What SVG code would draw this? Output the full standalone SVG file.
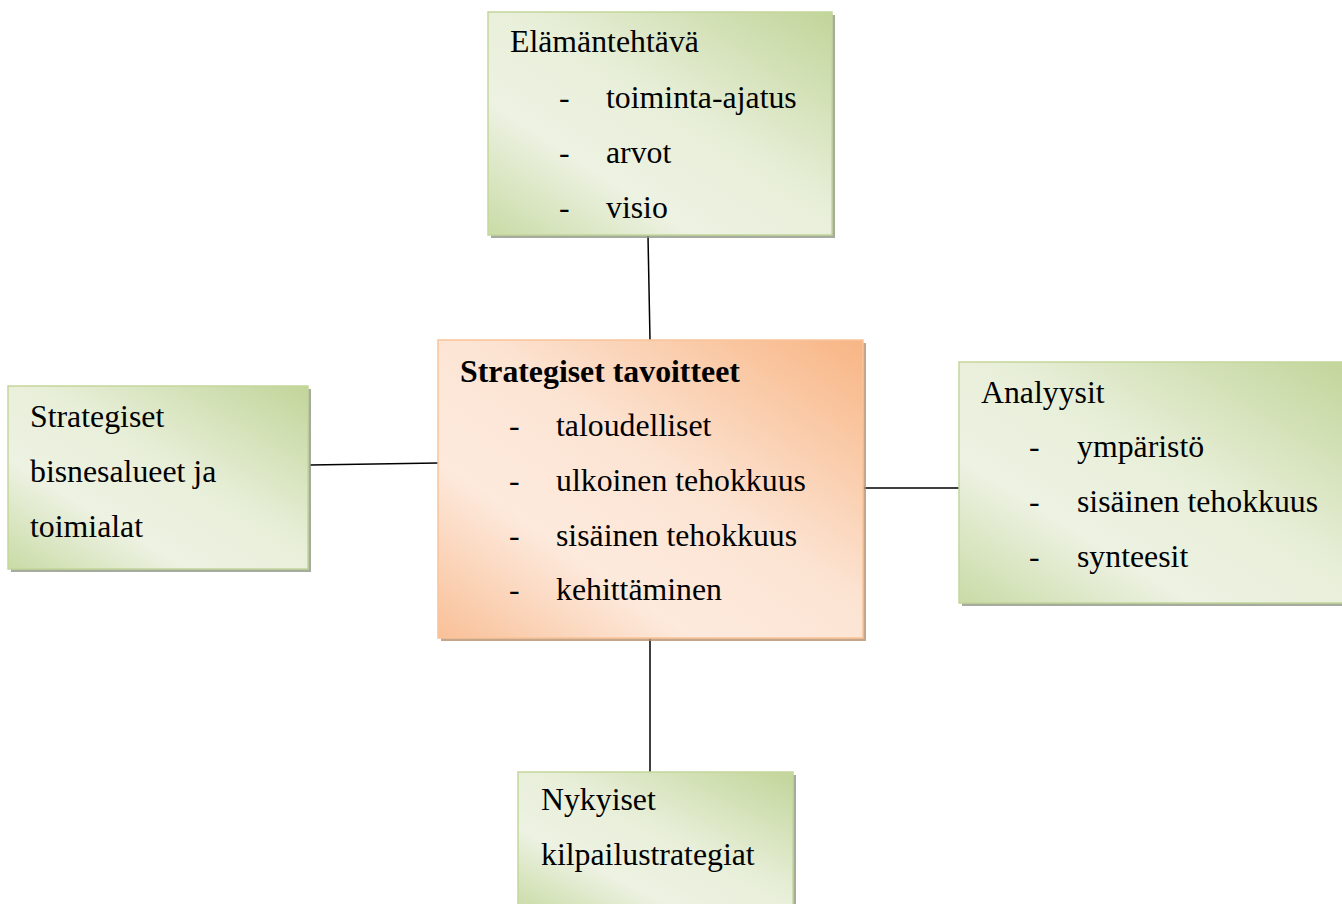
<svg xmlns="http://www.w3.org/2000/svg" width="1342" height="904" viewBox="0 0 1342 904">
<style>
text{font-family:"Liberation Serif","Times New Roman",serif;font-size:31.8px;fill:#000}
.b{font-weight:bold}
.g{fill:url(#gg);stroke:#c3d69b;stroke-width:1.5}
.o{fill:url(#go);stroke:#f9c49a;stroke-width:1.5}
.sg{fill:#8f9684;opacity:0.8}
.so{fill:#b8906c;opacity:0.8}
.c line{stroke:#000;stroke-width:1.5}
</style>
<defs>
<linearGradient id="gg" x1="1" y1="0" x2="0" y2="1">
<stop offset="0" stop-color="#c2d59a"/>
<stop offset="0.45" stop-color="#e8efd9"/>
<stop offset="0.7" stop-color="#edf2e2"/>
<stop offset="1" stop-color="#c9dba6"/>
</linearGradient>
<linearGradient id="go" x1="1" y1="0" x2="0" y2="1">
<stop offset="0" stop-color="#f8b584"/>
<stop offset="0.45" stop-color="#fce4d3"/>
<stop offset="0.7" stop-color="#fdeadd"/>
<stop offset="1" stop-color="#f9c098"/>
</linearGradient>
</defs>
<g class="c">
<line x1="648" y1="236" x2="650" y2="340"/>
<line x1="310" y1="465" x2="438" y2="463"/>
<line x1="863" y1="488" x2="959" y2="488"/>
<line x1="650" y1="638" x2="650" y2="772"/>
</g>
<g id="elamantehtava">
<rect class="sg" x="491" y="15" width="344" height="223"/>
<rect class="g" x="488" y="12" width="344" height="223"/>
<text x="510" y="52">Elämäntehtävä</text>
<text x="559" y="108">-</text><text x="606" y="108">toiminta-ajatus</text>
<text x="559" y="163">-</text><text x="606" y="163">arvot</text>
<text x="559" y="218">-</text><text x="606" y="218">visio</text>
</g>
<g id="strategiset-tavoitteet">
<rect class="so" x="441" y="343" width="425" height="298"/>
<rect class="o" x="438" y="340" width="425" height="298"/>
<text class="b" x="460" y="382">Strategiset tavoitteet</text>
<text x="509" y="436">-</text><text x="556" y="436">taloudelliset</text>
<text x="509" y="491">-</text><text x="556" y="491">ulkoinen tehokkuus</text>
<text x="509" y="546">-</text><text x="556" y="546">sisäinen tehokkuus</text>
<text x="509" y="600">-</text><text x="556" y="600">kehittäminen</text>
</g>
<g id="bisnesalueet">
<rect class="sg" x="11" y="389" width="300" height="183"/>
<rect class="g" x="8" y="386" width="300" height="183"/>
<text x="30" y="427">Strategiset</text>
<text x="30" y="482">bisnesalueet ja</text>
<text x="30" y="537">toimialat</text>
</g>
<g id="analyysit">
<rect class="sg" x="962" y="365" width="390" height="241"/>
<rect class="g" x="959" y="362" width="390" height="241"/>
<text x="981" y="403">Analyysit</text>
<text x="1029" y="457">-</text><text x="1077" y="457">ympäristö</text>
<text x="1029" y="512">-</text><text x="1077" y="512">sisäinen tehokkuus</text>
<text x="1029" y="567">-</text><text x="1077" y="567">synteesit</text>
</g>
<g id="kilpailustrategiat">
<rect class="sg" x="521" y="775" width="275" height="140"/>
<rect class="g" x="518" y="772" width="275" height="140"/>
<text x="541" y="810">Nykyiset</text>
<text x="541" y="865">kilpailustrategiat</text>
</g>
</svg>
